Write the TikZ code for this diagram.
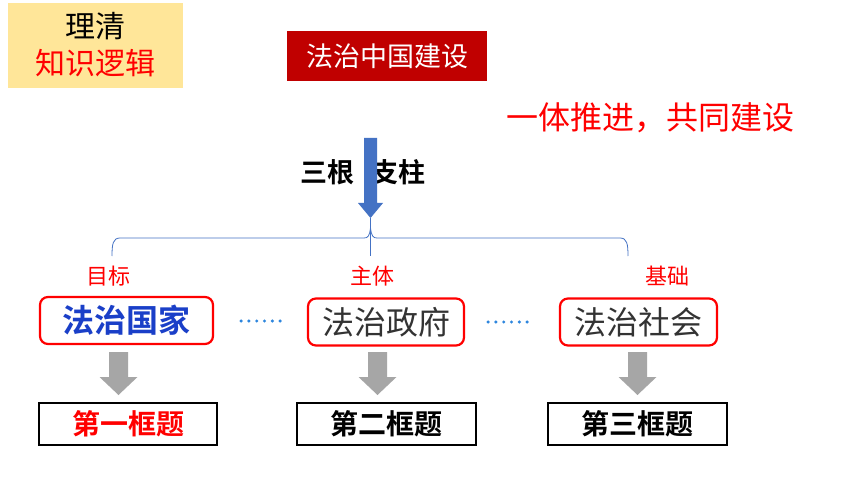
\documentclass[tikz,border=0pt]{standalone}
\usepackage{fontspec}
\usetikzlibrary{calc}
\newfontfamily\cjk{Noto Sans CJK SC}
\newfontfamily\cjkb{Noto Sans CJK SC Bold}
\definecolor{yel}{HTML}{FFE699}
\definecolor{dred}{HTML}{C00000}
\definecolor{bblue}{HTML}{4472C4}
\definecolor{tblue}{HTML}{1A3FC8}
\definecolor{dotblue}{HTML}{2E86DE}
\definecolor{garr}{HTML}{A6A6A6}
\definecolor{tgray}{HTML}{333333}
\tikzset{
  x=1pt, y=-1pt,
  redbox/.style={draw=red, line width=2.2pt, rounded corners=8pt, minimum height=47pt, inner sep=0pt, fill=white},
  blackbox/.style={draw=black, line width=1.8pt, minimum height=42pt, inner sep=0pt, fill=white},
  lab/.style={text=red, font=\cjk\fontsize{22}{22}\selectfont},
  dotmark/.style={fill=dotblue, draw=none},
  garrow/.style={fill=garr, draw=none},
}
\begin{document}
\begin{tikzpicture}
\useasboundingbox (0,0) rectangle (860,484);
\fill[white] (0,0) rectangle (860,484);
% top left yellow box
\node[fill=yel, minimum width=175pt, minimum height=85pt, inner sep=0pt] (logic) at (95.5,45.5) {};
\node[font=\cjk\fontsize{30}{30}\selectfont, text=black] (t1) at (95.5,26) {理清};
\node[font=\cjk\fontsize{30}{30}\selectfont, text=red] (t2) at (95.5,63) {知识逻辑};
% red title box
\node[fill=dred, minimum width=200pt, minimum height=50pt, inner sep=0pt, text=white, font=\cjk\fontsize{27}{27}\selectfont] (title) at (387,56) {法治中国建设};
\node[text=red, font=\cjk\fontsize{32}{32}\selectfont] (slogan) at (650,118) {一体推进，共同建设};
% blue arrow
\node[font=\cjkb\fontsize{27}{27}\selectfont] (pillars) at (363,172) {三根\hspace{17pt}支柱};
\fill[bblue] (364,138) -- (377,138) -- (377,203) -- (383,203) -- (370.5,218) -- (358,203) -- (364,203) -- cycle;
\coordinate (atip) at (370.5,218);
% brace
\coordinate (bl) at (112,256);
\coordinate (br) at (628,256);
\coordinate (bm) at (370.5,256);
\draw[bblue, line width=0.8pt] (bl) .. controls (112,244) and (113,238) .. (120,238) -- (364,238) .. controls (368,238) and (369.5,236) .. (370.5,228)
  .. controls (371.5,236) and (373,238) .. (377,238) -- (620,238) .. controls (627,238) and (628,244) .. (br);
\draw[bblue, line width=0.8pt] (atip) -- (bm);
% labels
\node[lab] (l1) at (108,276) {目标};
\node[lab] (l2) at (372,276) {主体};
\node[lab] (l3) at (667,276) {基础};
% red boxes
\node[redbox, minimum width=173pt, text=tblue, font=\cjkb\fontsize{32}{32}\selectfont] (b1) at (126.5,320.5) {法治国家};
\node[redbox, minimum width=156pt, text=tgray, font=\cjk\fontsize{32}{32}\selectfont] (b2) at (386,322) {法治政府};
\node[redbox, minimum width=157pt, text=tgray, font=\cjk\fontsize{32}{32}\selectfont] (b3) at (638.5,322) {法治社会};
% dots
\foreach \i in {0,...,5}{
  \fill[dotmark] ($(b1.east)+(27+\i*7.8,0.5)$) circle (1.7pt);
  \fill[dotmark] ($(b2.east)+(23+\i*7.8,0)$) circle (1.7pt);
}
% gray arrows
\foreach \cx/\nm in {118.5/a1, 377.5/a2, 637.5/a3}{
  \fill[garrow] (\cx-9.5,352) -- (\cx+9.5,352) -- (\cx+9.5,377) -- (\cx+19,377) -- (\cx,395) -- (\cx-19,377) -- (\cx-9.5,377) -- cycle;
}
% bottom boxes
\node[blackbox, minimum width=178pt, text=red, font=\cjkb\fontsize{28}{28}\selectfont] (c1) at (128,424) {第一框题};
\node[blackbox, minimum width=179pt, text=black, font=\cjkb\fontsize{28}{28}\selectfont] (c2) at (386.5,424) {第二框题};
\node[blackbox, minimum width=179pt, text=black, font=\cjkb\fontsize{28}{28}\selectfont] (c3) at (637.5,424) {第三框题};
\end{tikzpicture}
\end{document}
